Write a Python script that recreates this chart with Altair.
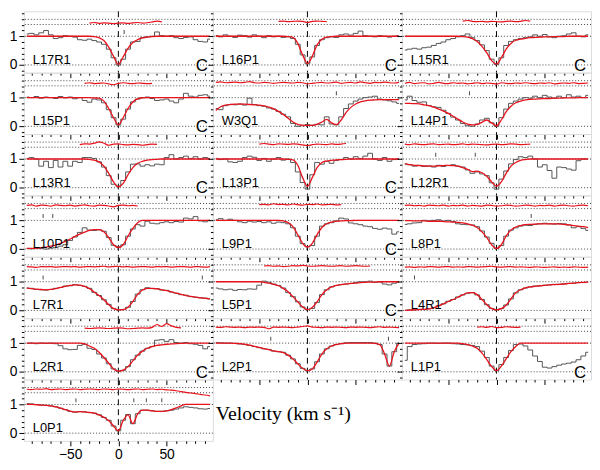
import altair as alt
import pandas as pd

# velocity grid (km/s) shared by the observed and fitted profiles
V = list(range(-95, 100, 5))
LEVELS = [0, 1, 1.41, 1.59]
XTICKS = [-90, -80, -70, -60, -50, -40, -30, -20, -10, 0, 10, 20, 30, 40, 50, 60, 70, 80, 90]
YTICKS = [-0.2, 0, 0.2, 0.4, 0.6, 0.8, 1, 1.2, 1.4, 1.6, 1.8]
TICK_LEVEL = 1.15

# ---------------- L17R1 ----------------
L17R1_obs = [1.08, 1.10, 1.05, 1.12, 1.20, 1.05, 0.92, 0.95, 1.02, 1.00,
             0.97, 0.88, 0.86, 0.90, 0.85, 0.80, 0.72, 0.55, 0.25, 0.00,
             0.20, 0.55, 0.80, 0.82, 0.95, 0.98, 1.00, 1.15, 1.02, 1.00,
             1.02, 0.95, 0.92, 0.96, 0.98, 0.88, 0.82, 0.80, 0.90]
L17R1_fit = [1.00, 1.00, 1.00, 1.00, 1.00, 1.00, 1.00, 1.00, 1.00, 1.00,
             1.00, 1.00, 1.00, 1.00, 0.99, 0.95, 0.85, 0.62, 0.30, 0.02,
             0.28, 0.58, 0.78, 0.88, 0.94, 0.97, 0.99, 1.00, 1.00, 1.00,
             1.00, 1.00, 1.00, 1.00, 1.00, 1.00, 1.00, 1.00, 1.00]
L17R1_res0 = -30
L17R1_res = [1.46, 1.48, 1.45, 1.47, 1.46, 1.44, 1.46, 1.47, 1.45, 1.47, 1.48, 1.46, 1.47, 1.50, 1.53, 1.50]
L17R1_ticks = [6]

# ---------------- L16P1 ----------------
L16P1_obs = [1.02, 0.98, 1.05, 1.00, 0.96, 1.04, 1.02, 0.97, 1.05, 1.00,
             0.95, 1.02, 0.98, 1.00, 0.96, 0.98, 0.92, 0.72, 0.35, 0.04,
             0.28, 0.68, 0.88, 0.95, 0.98, 0.96, 1.05, 1.08, 1.04, 1.10,
             1.18, 1.02, 1.00, 0.98, 1.02, 1.00, 0.97, 1.00, 1.02]
L16P1_fit = [1.00, 1.00, 1.00, 1.00, 1.00, 1.00, 1.00, 1.00, 1.00, 1.00,
             1.00, 1.00, 1.00, 1.00, 1.00, 0.99, 0.96, 0.75, 0.35, 0.05,
             0.30, 0.70, 0.90, 0.97, 0.99, 1.00, 1.00, 1.00, 1.00, 1.00,
             1.00, 1.00, 1.00, 1.00, 1.00, 1.00, 1.00, 1.00, 1.00]
L16P1_res0 = -30
L16P1_res = [1.52, 1.53, 1.51, 1.52, 1.53, 1.52, 1.48, 1.52, 1.53, 1.52, 1.51]
L16P1_ticks = []

# ---------------- L15R1 ----------------
L15R1_obs = [0.52, 0.55, 0.58, 0.55, 0.60, 0.62, 0.68, 0.75, 0.80, 0.88,
             0.92, 0.98, 1.02, 1.08, 0.95, 0.85, 0.70, 0.50, 0.20, 0.02,
             0.25, 0.68, 0.82, 0.88, 0.92, 0.95, 0.98, 1.05, 1.00, 1.06,
             0.98, 0.95, 1.00, 1.02, 1.08, 1.12, 1.00, 0.98, 1.05]
L15R1_fit = [1.00, 1.00, 1.00, 1.00, 1.00, 1.00, 1.00, 1.00, 1.00, 1.00,
             1.00, 1.00, 0.99, 0.97, 0.92, 0.82, 0.65, 0.42, 0.15, 0.03,
             0.25, 0.55, 0.75, 0.86, 0.90, 0.93, 0.95, 0.96, 0.97, 0.98,
             0.98, 0.99, 0.99, 0.99, 1.00, 1.00, 1.00, 1.00, 1.00]
L15R1_res0 = -35
L15R1_res = [1.53, 1.55, 1.52, 1.51, 1.52, 1.50, 1.52, 1.51, 1.50, 1.52, 1.53, 1.51, 1.52, 1.55, 1.53]
L15R1_ticks = []

# ---------------- L15P1 ----------------
L15P1_obs = [1.02, 1.00, 1.04, 0.98, 1.02, 1.00, 0.97, 1.04, 0.99, 1.02,
             0.96, 1.00, 0.90, 0.84, 0.95, 0.92, 0.82, 0.58, 0.30, 0.05,
             0.25, 0.60, 0.85, 0.95, 1.00, 1.02, 0.97, 0.90, 0.92, 0.95,
             0.88, 0.82, 0.95, 1.15, 1.05, 1.02, 1.08, 1.10, 1.05]
L15P1_fit = [1.00, 1.00, 1.00, 1.00, 1.00, 1.00, 1.00, 1.00, 1.00, 1.00,
             1.00, 1.00, 1.00, 1.00, 0.99, 0.98, 0.88, 0.62, 0.30, 0.05,
             0.30, 0.62, 0.85, 0.96, 0.99, 1.00, 1.00, 1.00, 1.00, 1.00,
             1.00, 1.00, 1.00, 1.00, 1.00, 1.00, 1.00, 1.00, 1.00]
L15P1_res0 = -35
L15P1_res = [1.50, 1.52, 1.49, 1.50, 1.51, 1.48, 1.45, 1.50, 1.52, 1.50, 1.49, 1.51, 1.50, 1.49, 1.50]
L15P1_ticks = []

# ---------------- W3Q1 ----------------
W3Q1_obs = [0.62, 0.58, 0.72, 0.76, 0.75, 0.78, 0.74, 0.98, 0.76, 0.72,
            0.70, 0.64, 0.60, 0.52, 0.42, 0.33, 0.10, 0.00, 0.02, 0.06,
            0.03, 0.07, 0.05, 0.33, 0.08, 0.05, 0.33, 0.62, 0.78, 0.88,
            0.95, 1.00, 1.02, 1.05, 0.95, 0.92, 0.89, 0.85, 0.80]
W3Q1_fit = [0.55, 0.68, 0.74, 0.76, 0.77, 0.77, 0.77, 0.76, 0.75, 0.74,
            0.71, 0.67, 0.61, 0.52, 0.41, 0.28, 0.15, 0.07, 0.04, 0.03,
            0.04, 0.07, 0.15, 0.24, 0.12, 0.06, 0.22, 0.48, 0.66, 0.78,
            0.85, 0.89, 0.91, 0.92, 0.93, 0.93, 0.93, 0.93, 0.93]
W3Q1_res0 = -95
W3Q1_res = [1.53, 1.55, 1.52, 1.53, 1.54, 1.52, 1.53, 1.56, 1.52, 1.51,
            1.53, 1.52, 1.50, 1.52, 1.53, 1.52, 1.51, 1.53, 1.52, 1.48,
            1.50, 1.52, 1.53, 1.51, 1.52, 1.54, 1.50, 1.52, 1.53, 1.51,
            1.55, 1.52, 1.50, 1.53, 1.52, 1.54, 1.52, 1.51, 1.53]
W3Q1_ticks = [30]

# ---------------- L14P1 ----------------
L14P1_obs = [0.92, 1.05, 0.90, 0.84, 0.85, 0.72, 0.68, 0.66, 0.56, 0.45,
             0.32, 0.22, 0.10, 0.02, 0.00, 0.08, 0.22, 0.28, 0.12, 0.00,
             0.30, 0.60, 0.80, 0.88, 0.95, 1.00, 0.98, 1.05, 1.00, 1.08,
             1.02, 0.98, 1.05, 1.00, 1.10, 1.02, 1.05, 1.00, 1.08]
L14P1_fit = [0.80, 0.80, 0.79, 0.78, 0.75, 0.72, 0.67, 0.60, 0.53, 0.45,
             0.35, 0.25, 0.15, 0.08, 0.05, 0.07, 0.14, 0.22, 0.12, 0.02,
             0.22, 0.50, 0.70, 0.82, 0.88, 0.92, 0.94, 0.95, 0.96, 0.97,
             0.97, 0.98, 0.98, 0.99, 0.99, 0.99, 1.00, 1.00, 1.00]
L14P1_res0 = -95
L14P1_res = [1.50, 1.53, 1.49, 1.51, 1.52, 1.48, 1.50, 1.53, 1.50, 1.49,
             1.52, 1.50, 1.51, 1.48, 1.50, 1.52, 1.49, 1.51, 1.50, 1.47,
             1.52, 1.50, 1.49, 1.51, 1.50, 1.52, 1.50, 1.49, 1.51, 1.50,
             1.52, 1.48, 1.50, 1.51, 1.50, 1.52, 1.49, 1.50, 1.51]
L14P1_ticks = [-28]

# ---------------- L13R1 ----------------
L13R1_obs = [1.02, 1.05, 1.00, 0.75, 0.92, 0.70, 0.95, 0.72, 0.92, 0.75,
             0.92, 0.88, 1.05, 1.05, 1.02, 0.90, 0.72, 0.42, 0.12, 0.05,
             0.25, 0.55, 0.82, 0.83, 0.75, 0.80, 0.76, 0.82, 0.80, 1.05,
             1.15, 1.00, 1.05, 1.10, 1.02, 1.08, 1.00, 1.05, 1.02]
L13R1_fit = [1.00, 1.00, 1.00, 1.00, 1.00, 1.00, 1.00, 1.00, 1.00, 1.00,
             1.00, 1.00, 1.00, 0.99, 0.96, 0.90, 0.75, 0.50, 0.20, 0.03,
             0.15, 0.45, 0.70, 0.85, 0.92, 0.96, 0.98, 0.99, 1.00, 1.00,
             1.00, 1.00, 1.00, 1.00, 1.00, 1.00, 1.00, 1.00, 1.00]
L13R1_res0 = -40
L13R1_res = [1.50, 1.53, 1.52, 1.55, 1.60, 1.55, 1.48, 1.52, 1.53, 1.50, 1.49, 1.51, 1.50, 1.48, 1.50, 1.52, 1.51]
L13R1_ticks = []

# ---------------- L13P1 ----------------
L13P1_obs = [1.02, 0.98, 1.00, 0.90, 0.88, 0.92, 1.05, 1.10, 1.06, 0.95,
             1.02, 0.92, 1.00, 1.05, 0.96, 1.00, 0.88, 0.55, 0.18, -0.05,
             0.45, 0.88, 0.82, 0.92, 0.85, 0.95, 0.98, 1.05, 1.00, 1.08,
             1.02, 1.10, 1.20, 1.00, 0.95, 1.05, 0.92, 0.98, 1.00]
L13P1_fit = [1.00, 1.00, 1.00, 1.00, 1.00, 1.00, 1.00, 1.00, 1.00, 1.00,
             1.00, 1.00, 1.00, 1.00, 1.00, 0.99, 0.97, 0.78, 0.35, 0.05,
             0.35, 0.70, 0.88, 0.93, 0.95, 0.97, 0.98, 0.99, 1.00, 1.00,
             1.00, 1.00, 1.00, 1.00, 1.00, 1.00, 1.00, 1.00, 1.00]
L13P1_res0 = -50
L13P1_res = [1.52, 1.54, 1.52, 1.50, 1.53, 1.52, 1.51, 1.53, 1.52, 1.49, 1.47, 1.50, 1.52, 1.51, 1.50, 1.53, 1.51, 1.52, 1.54]
L13P1_ticks = []

# ---------------- L12R1 ----------------
L12R1_obs = [0.83, 0.80, 0.75, 0.78, 0.74, 0.76, 0.72, 0.78, 0.74, 0.77,
             0.80, 0.75, 0.72, 0.62, 0.50, 0.55, 0.48, 0.42, 0.17, -0.05,
             0.30, 0.58, 0.83, 0.98, 1.08, 1.05, 1.10, 1.00, 0.72, 0.80,
             0.60, 0.33, 0.72, 0.70, 0.65, 0.61, 0.94, 1.00, 1.00]
L12R1_fit = [0.83, 0.80, 0.78, 0.77, 0.76, 0.75, 0.75, 0.76, 0.77, 0.78,
             0.77, 0.75, 0.70, 0.64, 0.56, 0.58, 0.52, 0.40, 0.20, 0.05,
             0.20, 0.50, 0.75, 0.88, 0.95, 0.98, 1.00, 1.00, 1.00, 1.00,
             1.00, 1.00, 1.00, 1.00, 1.00, 1.00, 1.00, 1.00, 1.00]
L12R1_res0 = -95
L12R1_res = [1.52, 1.50, 1.53, 1.51, 1.50, 1.52, 1.53, 1.50, 1.51, 1.52,
             1.50, 1.51, 1.53, 1.50, 1.52, 1.51, 1.50, 1.49, 1.51, 1.52,
             1.50, 1.51, 1.53, 1.52, 1.50, 1.51, 1.52]
L12R1_ticks = [-63, -22]

# ---------------- L10P1 ----------------
L10P1_obs = [0.02, 0.01, 0.03, 0.02, 0.00, 0.03, 0.05, 0.10, 0.15, 0.30,
             0.42, 0.58, 0.74, 0.66, 0.65, 0.67, 0.62, 0.40, 0.13, 0.08,
             0.15, 0.45, 0.70, 0.85, 0.80, 0.97, 0.90, 0.88, 0.92, 0.95,
             0.92, 0.96, 0.94, 1.08, 1.05, 1.13, 0.98, 0.95, 1.00]
L10P1_fit = [0.02, 0.02, 0.03, 0.05, 0.07, 0.10, 0.14, 0.20, 0.27, 0.35,
             0.44, 0.52, 0.59, 0.65, 0.68, 0.68, 0.60, 0.40, 0.15, 0.05,
             0.15, 0.45, 0.72, 0.92, 1.00, 1.00, 1.00, 1.00, 1.00, 1.00,
             1.00, 1.00, 1.00, 1.00, 1.00, 1.00, 1.00, 1.00, 1.00]
L10P1_res0 = -95
L10P1_res = [1.52, 1.54, 1.50, 1.53, 1.52, 1.50, 1.54, 1.52, 1.51, 1.53,
             1.50, 1.52, 1.54, 1.51, 1.50, 1.53, 1.52, 1.50, 1.47, 1.52,
             1.53, 1.51, 1.52, 1.50]
L10P1_ticks = [-78, -68]

# ---------------- L9P1 ----------------
L9P1_obs = [1.02, 1.06, 1.00, 1.04, 1.00, 0.95, 0.92, 0.97, 0.94, 0.96,
            0.92, 0.95, 0.90, 0.94, 0.92, 0.88, 0.74, 0.45, 0.19, 0.08,
            0.12, 0.45, 0.80, 0.88, 0.92, 0.98, 1.08, 1.05, 0.91, 0.88,
            0.85, 0.80, 0.78, 0.72, 0.69, 0.73, 0.70, 0.52, 0.60]
L9P1_fit = [1.00, 1.00, 1.00, 1.00, 1.00, 1.00, 1.00, 1.00, 1.00, 1.00,
            1.00, 1.00, 1.00, 1.00, 0.98, 0.92, 0.78, 0.50, 0.20, 0.07,
            0.20, 0.50, 0.75, 0.88, 0.94, 0.97, 0.98, 0.99, 0.99, 1.00,
            1.00, 1.00, 1.00, 1.00, 1.00, 1.00, 1.00, 1.00, 1.00]
L9P1_res0 = -50
L9P1_res = [1.55, 1.56, 1.54, 1.58, 1.55, 1.56, 1.54, 1.57, 1.55, 1.53, 1.56, 1.55, 1.57, 1.54, 1.55, 1.56, 1.54, 1.55]
L9P1_ticks = []

# ---------------- L8P1 ----------------
L8P1_obs = [0.86, 0.88, 0.91, 0.92, 1.00, 0.98, 1.00, 1.02, 0.98, 1.00,
            0.96, 0.88, 0.86, 0.85, 0.84, 0.78, 0.63, 0.42, 0.20, 0.02,
            0.12, 0.45, 0.66, 0.74, 0.80, 0.83, 0.82, 0.86, 0.88, 0.90,
            0.88, 0.87, 0.89, 0.88, 0.84, 0.74, 0.78, 0.72, 0.65]
L8P1_fit = [0.99, 0.99, 0.98, 0.98, 0.98, 0.97, 0.97, 0.97, 0.96, 0.95,
            0.94, 0.93, 0.91, 0.88, 0.83, 0.75, 0.60, 0.40, 0.15, 0.02,
            0.15, 0.45, 0.66, 0.77, 0.82, 0.85, 0.86, 0.87, 0.88, 0.88,
            0.88, 0.88, 0.87, 0.86, 0.84, 0.82, 0.80, 0.78, 0.75]
L8P1_res0 = -95
L8P1_res = [1.52, 1.53, 1.51, 1.52, 1.50, 1.53, 1.52, 1.51, 1.53, 1.50,
            1.52, 1.51, 1.53, 1.50, 1.52, 1.51, 1.50, 1.53, 1.52, 1.50,
            1.51, 1.53, 1.52, 1.50, 1.51, 1.53, 1.52, 1.50, 1.52, 1.51,
            1.53, 1.50, 1.52, 1.53, 1.51, 1.50, 1.52, 1.53, 1.51]
L8P1_ticks = [36]

# ---------------- L7R1 ----------------
L7R1_obs = [0.78, 0.77, 0.73, 0.72, 0.71, 0.73, 0.77, 0.80, 0.85, 0.86,
            0.90, 0.87, 0.84, 0.77, 0.63, 0.52, 0.37, 0.21, 0.06, 0.02,
            0.03, 0.11, 0.31, 0.57, 0.72, 0.79, 0.76, 0.76, 0.71, 0.70,
            0.64, 0.60, 0.55, 0.53, 0.48, 0.46, 0.44, 0.43, 0.40]
L7R1_fit = [0.78, 0.76, 0.74, 0.73, 0.72, 0.73, 0.76, 0.80, 0.84, 0.87,
            0.89, 0.88, 0.84, 0.76, 0.64, 0.52, 0.37, 0.20, 0.07, 0.02,
            0.03, 0.11, 0.31, 0.56, 0.71, 0.77, 0.77, 0.75, 0.72, 0.69,
            0.65, 0.60, 0.56, 0.52, 0.49, 0.46, 0.44, 0.42, 0.40]
L7R1_res0 = -95
L7R1_res = [1.53, 1.52, 1.50, 1.53, 1.52, 1.53, 1.51, 1.52, 1.53, 1.52,
            1.53, 1.51, 1.52, 1.53, 1.52, 1.53, 1.54, 1.52, 1.53, 1.54,
            1.52, 1.53, 1.51, 1.52, 1.53, 1.52, 1.51, 1.53, 1.52, 1.53,
            1.51, 1.52, 1.53, 1.52, 1.51, 1.53, 1.52, 1.51, 1.53]
L7R1_ticks = [-78, 87]

# ---------------- L5P1 ----------------
L5P1_obs = [0.78, 0.75, 0.72, 0.74, 0.70, 0.73, 0.72, 0.75, 0.74, 0.88,
            1.02, 0.98, 0.92, 0.87, 0.78, 0.62, 0.48, 0.30, 0.12, 0.03,
            0.07, 0.28, 0.55, 0.72, 0.82, 0.87, 0.90, 0.92, 0.94, 0.97,
            1.00, 1.00, 1.02, 0.98, 0.99, 0.92, 0.89, 0.95, 1.00]
L5P1_fit = [1.00, 1.00, 1.00, 1.00, 1.00, 1.00, 1.00, 1.00, 1.00, 1.00,
            0.98, 0.95, 0.91, 0.86, 0.77, 0.65, 0.48, 0.30, 0.12, 0.03,
            0.10, 0.30, 0.55, 0.72, 0.82, 0.87, 0.90, 0.92, 0.94, 0.95,
            0.97, 0.98, 0.99, 0.99, 1.00, 1.00, 1.00, 1.00, 1.00]
L5P1_res0 = -45
L5P1_res = [1.55, 1.56, 1.54, 1.55, 1.53, 1.54, 1.56, 1.55, 1.57, 1.55,
            1.54, 1.55, 1.56, 1.55, 1.54, 1.55, 1.56, 1.54, 1.55, 1.56,
            1.55, 1.54, 1.55]
L5P1_ticks = []

# ---------------- L4R1 ----------------
L4R1_obs = [0.00, 0.02, 0.02, 0.04, 0.03, 0.06, 0.10, 0.17, 0.23, 0.32,
            0.38, 0.47, 0.54, 0.60, 0.62, 0.54, 0.38, 0.20, 0.07, 0.02,
            0.06, 0.19, 0.40, 0.61, 0.72, 0.78, 0.82, 0.85, 0.86, 0.88,
            0.89, 0.91, 0.91, 0.93, 0.94, 0.95, 0.97, 0.97, 0.99]
L4R1_fit = [0.00, 0.01, 0.02, 0.03, 0.04, 0.05, 0.10, 0.16, 0.23, 0.31,
            0.38, 0.46, 0.54, 0.61, 0.62, 0.55, 0.38, 0.20, 0.06, 0.02,
            0.06, 0.18, 0.40, 0.62, 0.72, 0.79, 0.82, 0.84, 0.86, 0.87,
            0.89, 0.90, 0.91, 0.92, 0.94, 0.95, 0.97, 0.98, 0.99]
L4R1_res0 = -95
L4R1_res = [1.51, 1.52, 1.50, 1.52, 1.51, 1.53, 1.52, 1.51, 1.52, 1.53,
            1.51, 1.52, 1.51, 1.53, 1.52, 1.51, 1.52, 1.53, 1.54, 1.52,
            1.51, 1.52, 1.53, 1.51, 1.52, 1.51, 1.50, 1.52, 1.51, 1.50,
            1.51, 1.52, 1.50, 1.51, 1.50, 1.52, 1.51, 1.50, 1.51]
L4R1_ticks = [-85]

# ---------------- L2R1 ----------------
L2R1_obs = [0.99, 1.00, 0.98, 1.00, 0.99, 1.00, 0.98, 0.91, 0.80, 0.77,
            0.78, 0.92, 0.96, 0.82, 0.78, 0.62, 0.48, 0.28, 0.10, 0.02,
            0.05, 0.18, 0.42, 0.58, 0.72, 0.82, 0.88, 1.10, 1.12, 1.06,
            1.12, 1.02, 1.00, 1.02, 0.98, 0.96, 0.92, 0.80, 0.88]
L2R1_fit = [1.00, 1.00, 1.00, 1.00, 1.00, 1.00, 1.00, 1.00, 1.00, 1.00,
            1.00, 1.00, 0.97, 0.90, 0.82, 0.68, 0.50, 0.30, 0.10, 0.02,
            0.06, 0.18, 0.38, 0.58, 0.72, 0.82, 0.88, 0.92, 0.94, 0.96,
            0.97, 0.98, 0.99, 1.00, 1.00, 1.00, 1.00, 1.00, 1.00]
L2R1_res0 = -35
L2R1_res = [1.52, 1.51, 1.52, 1.53, 1.52, 1.51, 1.52, 1.53, 1.52, 1.50,
            1.51, 1.52, 1.53, 1.52, 1.55, 1.65, 1.58, 1.68, 1.60, 1.55, 1.53]
L2R1_ticks = []

# ---------------- L2P1 ----------------
L2P1_obs = [1.02, 1.01, 1.00, 1.00, 0.99, 0.97, 0.95, 0.92, 0.88, 0.84,
            0.80, 0.78, 0.72, 0.70, 0.68, 0.58, 0.45, 0.28, 0.12, 0.04,
            0.10, 0.35, 0.62, 0.80, 0.90, 0.95, 0.98, 1.01, 1.02, 1.02,
            1.02, 1.02, 1.02, 1.00, 0.95, 0.62, 0.20, 0.70, 1.00]
L2P1_fit = [1.00, 1.00, 1.00, 1.00, 0.99, 0.98, 0.96, 0.93, 0.89, 0.85,
            0.81, 0.77, 0.73, 0.70, 0.67, 0.58, 0.45, 0.28, 0.12, 0.04,
            0.10, 0.34, 0.62, 0.80, 0.90, 0.95, 0.98, 1.00, 1.00, 1.00,
            1.00, 1.00, 1.00, 0.99, 0.95, 0.62, 0.20, 0.70, 1.00]
L2P1_res0 = -95
L2P1_res = [1.56, 1.55, 1.57, 1.56, 1.55, 1.56, 1.54, 1.56, 1.55, 1.56,
            1.55, 1.50, 1.56, 1.55, 1.56, 1.55, 1.54, 1.56, 1.58, 1.60,
            1.56, 1.55, 1.54, 1.56, 1.55, 1.56, 1.55, 1.54, 1.56, 1.55,
            1.56, 1.55, 1.54, 1.56, 1.57, 1.55, 1.56, 1.55, 1.54]
L2P1_ticks = [-38, 84]

# ---------------- L1P1 ----------------
L1P1_obs = [0.40, 0.88, 0.95, 0.97, 0.98, 1.00, 1.00, 0.99, 1.00, 1.00,
            0.98, 0.97, 0.95, 0.94, 0.92, 0.88, 0.72, 0.50, 0.20, 0.04,
            0.25, 0.50, 0.74, 0.95, 0.97, 0.90, 0.76, 0.55, 0.36, 0.16,
            0.13, 0.18, 0.23, 0.27, 0.30, 0.34, 0.42, 0.55, 0.68]
L1P1_fit = [1.00, 1.00, 1.00, 1.00, 1.00, 1.00, 1.00, 1.00, 1.00, 1.00,
            1.00, 1.00, 0.98, 0.95, 0.90, 0.82, 0.65, 0.42, 0.18, 0.04,
            0.20, 0.45, 0.70, 0.88, 1.00, 1.00, 1.00, 1.00, 1.00, 1.00,
            1.00, 1.00, 1.00, 1.00, 1.00, 1.00, 1.00, 1.00, 1.00]
L1P1_res0 = -20
L1P1_res = [1.56, 1.57, 1.55, 1.58, 1.54, 1.55, 1.57, 1.56, 1.55, 1.56]
L1P1_ticks = []

# ---------------- L0P1 ----------------
L0P1_obs = [1.03, 1.02, 1.00, 0.98, 0.97, 0.95, 0.92, 0.87, 0.82, 0.76,
            0.73, 0.75, 0.74, 0.72, 0.70, 0.64, 0.55, 0.45, 0.25, 0.08,
            0.45, 0.65, 0.33, 0.68, 0.80, 0.80, 0.78, 0.76, 0.76, 0.78,
            0.80, 0.84, 0.88, 0.92, 0.90, 0.88, 0.85, 0.84, 0.86]
L0P1_fit = [1.00, 1.00, 0.99, 0.98, 0.97, 0.95, 0.92, 0.87, 0.82, 0.77,
            0.74, 0.75, 0.74, 0.72, 0.70, 0.64, 0.55, 0.44, 0.25, 0.08,
            0.44, 0.64, 0.33, 0.67, 0.80, 0.80, 0.78, 0.76, 0.76, 0.78,
            0.82, 0.88, 0.95, 1.00, 1.00, 1.00, 1.00, 1.00, 1.00]
L0P1_res0 = -95
L0P1_res = [1.53, 1.52, 1.54, 1.53, 1.55, 1.52, 1.53, 1.54, 1.52, 1.53,
            1.54, 1.52, 1.53, 1.54, 1.53, 1.52, 1.54, 1.53, 1.52, 1.54,
            1.53, 1.52, 1.53, 1.54, 1.52, 1.53, 1.54, 1.52, 1.53, 1.51,
            1.50, 1.48, 1.45, 1.42, 1.40, 1.38, 1.35, 1.33, 1.30]
L0P1_ticks = [-44, 16, 29, 45]

# name -> (observed, fit, residual start, residual, component ticks, "C" flag)
PANELS = {
    "L17R1": (L17R1_obs, L17R1_fit, L17R1_res0, L17R1_res, L17R1_ticks, True),
    "L16P1": (L16P1_obs, L16P1_fit, L16P1_res0, L16P1_res, L16P1_ticks, True),
    "L15R1": (L15R1_obs, L15R1_fit, L15R1_res0, L15R1_res, L15R1_ticks, True),
    "L15P1": (L15P1_obs, L15P1_fit, L15P1_res0, L15P1_res, L15P1_ticks, True),
    "W3Q1": (W3Q1_obs, W3Q1_fit, W3Q1_res0, W3Q1_res, W3Q1_ticks, False),
    "L14P1": (L14P1_obs, L14P1_fit, L14P1_res0, L14P1_res, L14P1_ticks, False),
    "L13R1": (L13R1_obs, L13R1_fit, L13R1_res0, L13R1_res, L13R1_ticks, True),
    "L13P1": (L13P1_obs, L13P1_fit, L13P1_res0, L13P1_res, L13P1_ticks, True),
    "L12R1": (L12R1_obs, L12R1_fit, L12R1_res0, L12R1_res, L12R1_ticks, False),
    "L10P1": (L10P1_obs, L10P1_fit, L10P1_res0, L10P1_res, L10P1_ticks, False),
    "L9P1": (L9P1_obs, L9P1_fit, L9P1_res0, L9P1_res, L9P1_ticks, True),
    "L8P1": (L8P1_obs, L8P1_fit, L8P1_res0, L8P1_res, L8P1_ticks, False),
    "L7R1": (L7R1_obs, L7R1_fit, L7R1_res0, L7R1_res, L7R1_ticks, False),
    "L5P1": (L5P1_obs, L5P1_fit, L5P1_res0, L5P1_res, L5P1_ticks, True),
    "L4R1": (L4R1_obs, L4R1_fit, L4R1_res0, L4R1_res, L4R1_ticks, False),
    "L2R1": (L2R1_obs, L2R1_fit, L2R1_res0, L2R1_res, L2R1_ticks, True),
    "L2P1": (L2P1_obs, L2P1_fit, L2P1_res0, L2P1_res, L2P1_ticks, False),
    "L1P1": (L1P1_obs, L1P1_fit, L1P1_res0, L1P1_res, L1P1_ticks, True),
    "L0P1": (L0P1_obs, L0P1_fit, L0P1_res0, L0P1_res, L0P1_ticks, False),
}
ORDER = ["L17R1", "L16P1", "L15R1",
         "L15P1", "W3Q1", "L14P1",
         "L13R1", "L13P1", "L12R1",
         "L10P1", "L9P1", "L8P1",
         "L7R1", "L5P1", "L4R1",
         "L2R1", "L2P1", "L1P1",
         "L0P1"]

rows = []
for name, (obs, fit, r0, res, ticks, _c) in PANELS.items():
    for v, f in zip(V, obs):
        rows.append((name, "obs", v, f))
    for v, f in zip(V, fit):
        rows.append((name, "fit", v, f))
    for i, f in enumerate(res):
        rows.append((name, "res", r0 + 5 * i, f))
    for v in ticks:
        rows.append((name, "tick", v, TICK_LEVEL))
df = pd.DataFrame(rows, columns=["panel", "s", "v", "f"])

W, H = 191, 62
RED = "#e8121c"
SANS = "Liberation Sans, Arial, Helvetica, sans-serif"
SERIF = "Liberation Serif, Times New Roman, serif"


def make_panel(name, col, last):
    has_c = PANELS[name][5]
    xs = alt.Scale(domain=[-98, 98], nice=False, zero=False)
    ys = alt.Scale(domain=[-0.27, 1.87], nice=False, zero=False)
    xaxis = alt.Axis(values=XTICKS, title=None, grid=False, domain=False,
                     labels=last,
                     labelExpr="datum.value % 50 === 0 ? datum.label : ''",
                     tickSize={"condition": {"test": "datum.value % 50 === 0", "value": 5}, "value": 2.5},
                     tickColor="black", tickWidth=1, labelFont=SANS, labelFontSize=14,
                     labelColor="black", labelPadding=2, labelFlush=False)
    yaxis = alt.Axis(values=YTICKS, title=None, grid=False, domain=False,
                     labels=(col == 0),
                     labelExpr="datum.value == 0 ? '0' : (datum.value == 1 ? '1' : '')",
                     tickSize={"condition": {"test": "datum.value == 0 || datum.value == 1", "value": 5}, "value": 2.5},
                     tickColor="black", tickWidth=1, labelFont=SANS, labelFontSize=14,
                     labelColor="black", labelPadding=2, labelFlush=False)
    x = alt.X("v:Q", scale=xs, axis=xaxis)
    y = alt.Y("f:Q", scale=ys, axis=yaxis)
    base = alt.Chart(df).transform_filter(alt.datum.panel == name)

    lv = alt.Chart(pd.DataFrame({"f": LEVELS})).mark_rule(
        color="#444444", strokeDash=[1, 2], strokeWidth=1).encode(y=y)
    zero = alt.Chart(pd.DataFrame({"v": [0]})).mark_rule(
        color="black", strokeDash=[6, 4], strokeWidth=1).encode(x=x)
    obs = base.transform_filter(alt.datum.s == "obs").mark_line(
        interpolate="step", color="#555555", strokeWidth=1).encode(x=x, y=y)
    fit = base.transform_filter(alt.datum.s == "fit").mark_line(
        interpolate="monotone", color=RED, strokeWidth=1.3).encode(x=x, y=y)
    res = base.transform_filter(alt.datum.s == "res").mark_line(
        interpolate="monotone", color=RED, strokeWidth=1.2).encode(x=x, y=y)
    tk = base.transform_filter(alt.datum.s == "tick").mark_tick(
        orient="vertical", size=4, thickness=1, color="black").encode(x=x, y=y)
    lab = alt.Chart(pd.DataFrame({"t": [name]})).mark_text(
        align="left", baseline="alphabetic", font=SANS, fontSize=13, color="black"
    ).encode(x=alt.value(9), y=alt.value(H - 9), text="t:N")
    layers = [lv, zero, obs, fit, res, tk, lab]
    if has_c:
        layers.append(alt.Chart(pd.DataFrame({"t": ["C"]})).mark_text(
            align="right", baseline="alphabetic", font=SANS, fontSize=17, color="black"
        ).encode(x=alt.value(W - 5), y=alt.value(H - 2), text="t:N"))
    if last:
        layers.append(alt.Chart(pd.DataFrame({"t": ["Velocity (km s\u207b\u00b9)"]})).mark_text(
            align="left", baseline="alphabetic", font=SERIF, fontSize=20, color="black"
        ).encode(x=alt.value(W + 3), y=alt.value(41), text="t:N"))
    return alt.layer(*layers).properties(width=W, height=H)


panels = [make_panel(n, i % 3, n == "L0P1") for i, n in enumerate(ORDER)]

chart = alt.concat(*panels, columns=3, spacing=0, bounds="flush").properties(
    padding=0
).configure_view(
    stroke="black", strokeWidth=2
).configure(background="white")

chart.save("out.html", embed_options={"renderer": "svg", "actions": False})
